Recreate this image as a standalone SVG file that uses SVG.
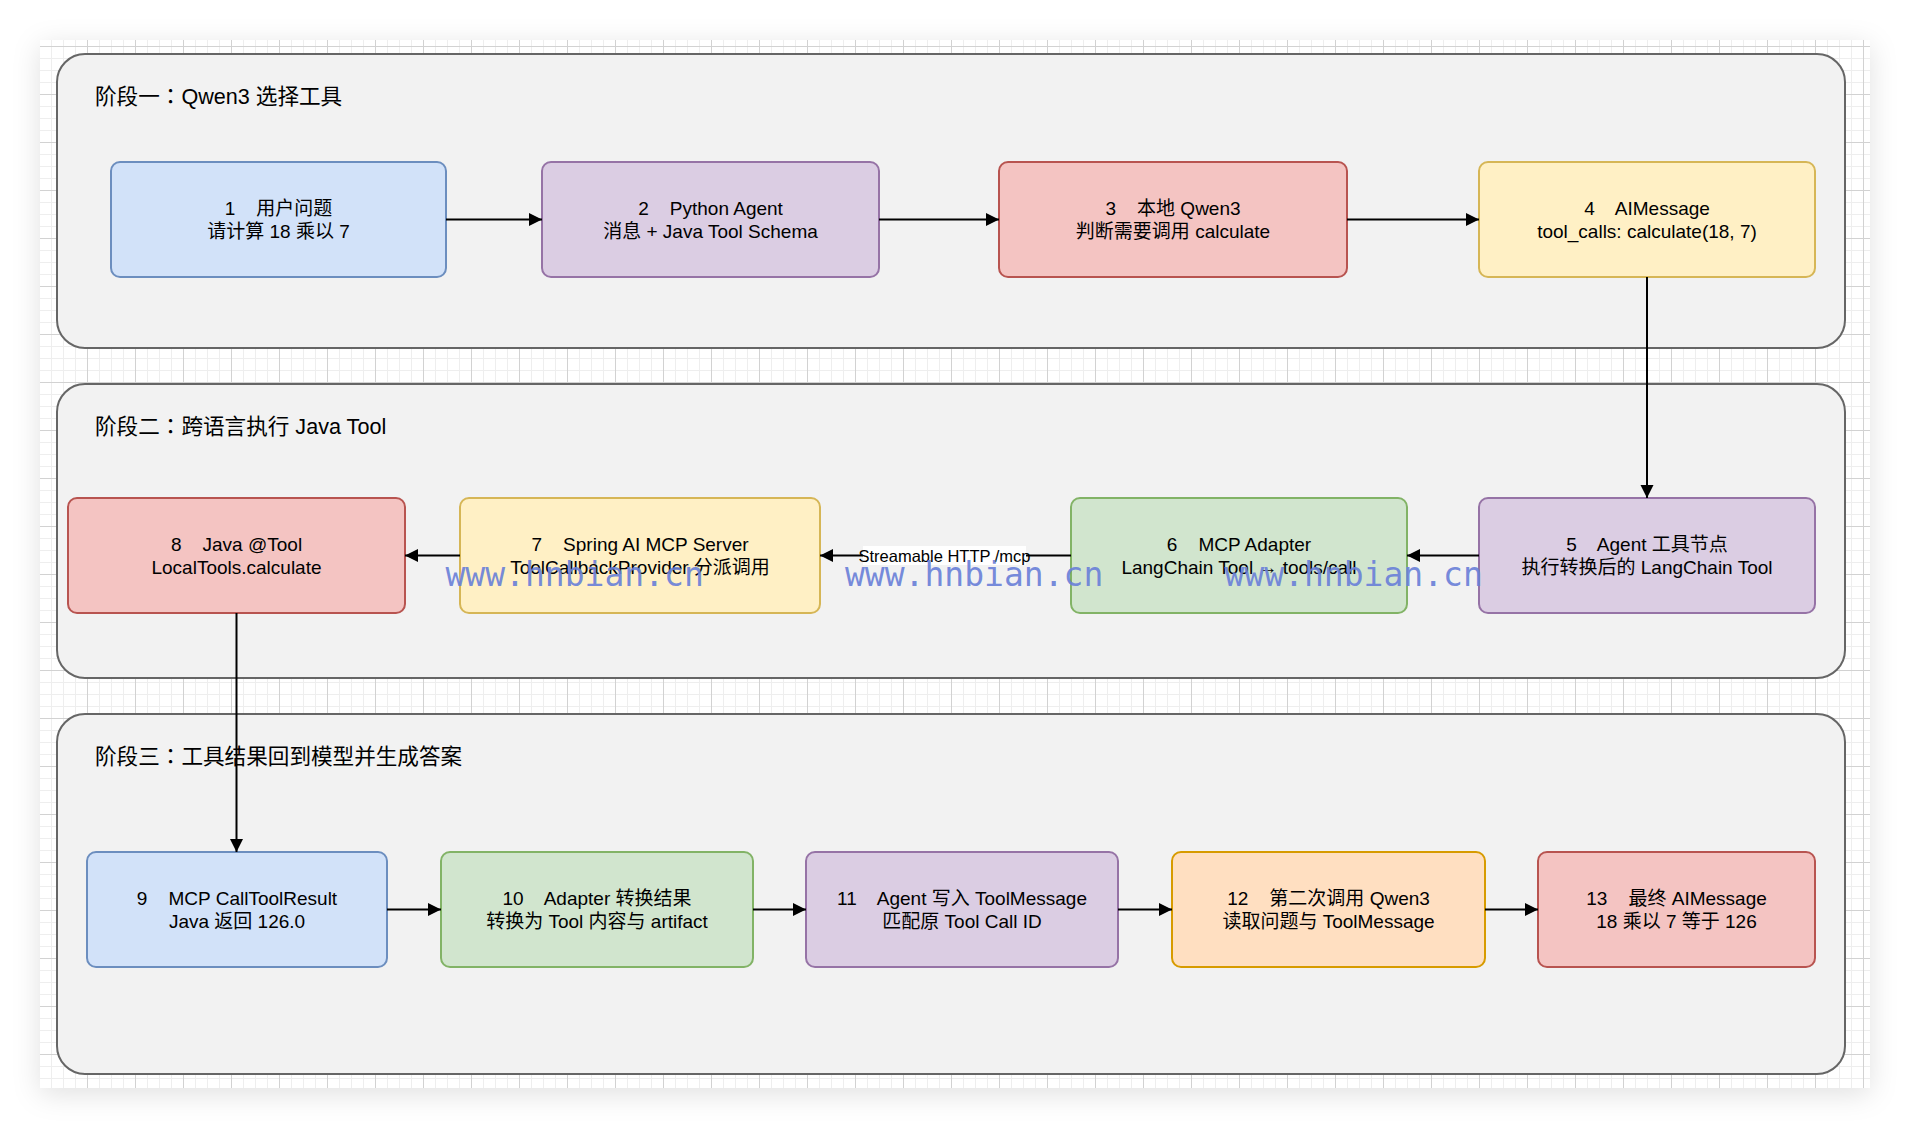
<svg xmlns="http://www.w3.org/2000/svg" width="1910" height="1128" viewBox="0 0 1910 1128">
  <defs>
    <filter id="pageShadow" x="-5%" y="-5%" width="110%" height="112%">
      <feDropShadow dx="0" dy="6" stdDeviation="14" flood-color="#000" flood-opacity="0.12"/>
    </filter>
    <pattern id="grid" patternUnits="userSpaceOnUse" x="39" y="46" width="48" height="48">
      <rect width="48" height="48" fill="#ffffff"/>
      <path d="M12.5,0V48M24.5,0V48M36.5,0V48M0,12.5H48M0,24.5H48M0,36.5H48" stroke="#eeeeee" stroke-width="1" fill="none"/>
      <path d="M0.5,0V48M0,0.5H48" stroke="#d2d2d2" stroke-width="1" fill="none"/>
    </pattern>
    <marker id="arrow" markerUnits="userSpaceOnUse" markerWidth="14" markerHeight="14" refX="13" refY="6.5" orient="auto">
      <path d="M0,0 L13,6.5 L0,13 Z" fill="#000"/>
    </marker>
    <style>
      text { white-space: pre; font-family: "Liberation Sans", "Noto Sans CJK SC", sans-serif; fill: #000; }
      .lane { fill: #f2f2f2; stroke: #666666; stroke-width: 2; }
      .title { font-size: 21.6px; }
      .colon { font-family: "Noto Sans CJK TC", "Noto Sans CJK SC", sans-serif; }
      .node text { font-size: 19px; text-anchor: middle; }
      .node rect { stroke-width: 2; }
      .blue { fill: #d2e2f9; stroke: #6c8ebf; }
      .purple { fill: #dbcde3; stroke: #9673a6; }
      .red { fill: #f4c4c2; stroke: #b85450; }
      .yellow { fill: #fff0c5; stroke: #d6b656; }
      .green { fill: #d1e5ce; stroke: #82b366; }
      .orange { fill: #ffdfc1; stroke: #d79b00; }
      .conn { stroke: #000; stroke-width: 2; fill: none; marker-end: url(#arrow); }
      .elabel { font-size: 16.5px; text-anchor: middle; }
      .wm { font-family: "DejaVu Sans Mono", "Liberation Mono", monospace; font-size: 33px; fill: #6a80d8; fill-opacity: 0.92; }
    </style>
  </defs>

  <rect x="0" y="0" width="1910" height="1128" fill="#ffffff"/>
  <rect x="40" y="40" width="1830" height="1048" fill="#ffffff" filter="url(#pageShadow)"/>
  <rect x="40" y="40" width="1830" height="1048" fill="url(#grid)"/>

  <g id="lanes">
    <g id="lane-1">
      <rect class="lane" x="57" y="54" width="1788" height="294" rx="28" ry="28"/>
      <text class="title" x="95" y="104">阶段一<tspan class="colon">：</tspan>Qwen3 选择工具</text>
    </g>
    <g id="lane-2">
      <rect class="lane" x="57" y="384" width="1788" height="294" rx="28" ry="28"/>
      <text class="title" x="95" y="434">阶段二<tspan class="colon">：</tspan>跨语言执行 Java Tool</text>
    </g>
    <g id="lane-3">
      <rect class="lane" x="57" y="714" width="1788" height="360" rx="28" ry="28"/>
      <text class="title" x="95" y="764">阶段三<tspan class="colon">：</tspan>工具结果回到模型并生成答案</text>
    </g>
  </g>

  <g id="node-1" class="node">
    <rect class="blue" x="111" y="162" width="335" height="115" rx="9"/>
    <text x="278.5" y="215">1    用户问题</text>
    <text x="278.5" y="238">请计算 18 乘以 7</text>
  </g>
  <g id="node-2" class="node">
    <rect class="purple" x="542" y="162" width="337" height="115" rx="9"/>
    <text x="710.5" y="215">2    Python Agent</text>
    <text x="710.5" y="238">消息 + Java Tool Schema</text>
  </g>
  <g id="node-3" class="node">
    <rect class="red" x="999" y="162" width="348" height="115" rx="9"/>
    <text x="1173" y="215">3    本地 Qwen3</text>
    <text x="1173" y="238">判断需要调用 calculate</text>
  </g>
  <g id="node-4" class="node">
    <rect class="yellow" x="1479" y="162" width="336" height="115" rx="9"/>
    <text x="1647" y="215">4    AIMessage</text>
    <text x="1647" y="238">tool_calls: calculate(18, 7)</text>
  </g>
  <g id="node-5" class="node">
    <rect class="purple" x="1479" y="498" width="336" height="115" rx="9"/>
    <text x="1647" y="551">5    Agent 工具节点</text>
    <text x="1647" y="574">执行转换后的 LangChain Tool</text>
  </g>
  <g id="node-6" class="node">
    <rect class="green" x="1071" y="498" width="336" height="115" rx="9"/>
    <text x="1239" y="551">6    MCP Adapter</text>
    <text x="1239" y="574">LangChain Tool → tools/call</text>
  </g>
  <g id="node-7" class="node">
    <rect class="yellow" x="460" y="498" width="360" height="115" rx="9"/>
    <text x="640" y="551">7    Spring AI MCP Server</text>
    <text x="640" y="574">ToolCallbackProvider 分派调用</text>
  </g>
  <g id="node-8" class="node">
    <rect class="red" x="68" y="498" width="337" height="115" rx="9"/>
    <text x="236.5" y="551">8    Java @Tool</text>
    <text x="236.5" y="574">LocalTools.calculate</text>
  </g>
  <g id="node-9" class="node">
    <rect class="blue" x="87" y="852" width="300" height="115" rx="9"/>
    <text x="237" y="905">9    MCP CallToolResult</text>
    <text x="237" y="928">Java 返回 126.0</text>
  </g>
  <g id="node-10" class="node">
    <rect class="green" x="441" y="852" width="312" height="115" rx="9"/>
    <text x="597" y="905">10    Adapter 转换结果</text>
    <text x="597" y="928">转换为 Tool 内容与 artifact</text>
  </g>
  <g id="node-11" class="node">
    <rect class="purple" x="806" y="852" width="312" height="115" rx="9"/>
    <text x="962" y="905">11    Agent 写入 ToolMessage</text>
    <text x="962" y="928">匹配原 Tool Call ID</text>
  </g>
  <g id="node-12" class="node">
    <rect class="orange" x="1172" y="852" width="313" height="115" rx="9"/>
    <text x="1328.5" y="905">12    第二次调用 Qwen3</text>
    <text x="1328.5" y="928">读取问题与 ToolMessage</text>
  </g>
  <g id="node-13" class="node">
    <rect class="red" x="1538" y="852" width="277" height="115" rx="9"/>
    <text x="1676.5" y="905">13    最终 AIMessage</text>
    <text x="1676.5" y="928">18 乘以 7 等于 126</text>
  </g>

  <g id="connectors">
    <path class="conn" d="M446,219.5 H542"/>
    <path class="conn" d="M879,219.5 H999"/>
    <path class="conn" d="M1347,219.5 H1479"/>
    <path class="conn" d="M1647,277 V498"/>
    <path class="conn" d="M1479,555.5 H1407"/>
    <path class="conn" d="M1071,555.5 H820"/>
    <rect x="863" y="546" width="163" height="19" fill="#ffffff"/>
    <text class="elabel" x="944.5" y="561.5">Streamable HTTP /mcp</text>
    <path class="conn" d="M460,555.5 H405"/>
    <path class="conn" d="M236.5,613 V852"/>
    <path class="conn" d="M387,909.5 H441"/>
    <path class="conn" d="M753,909.5 H806"/>
    <path class="conn" d="M1118,909.5 H1172"/>
    <path class="conn" d="M1485,909.5 H1538"/>
  </g>

  <g id="watermark">
    <text class="wm" x="445.5" y="586">www.hnbian.cn</text>
    <text class="wm" x="845" y="586">www.hnbian.cn</text>
    <text class="wm" x="1224.5" y="586">www.hnbian.cn</text>
  </g>
</svg>
